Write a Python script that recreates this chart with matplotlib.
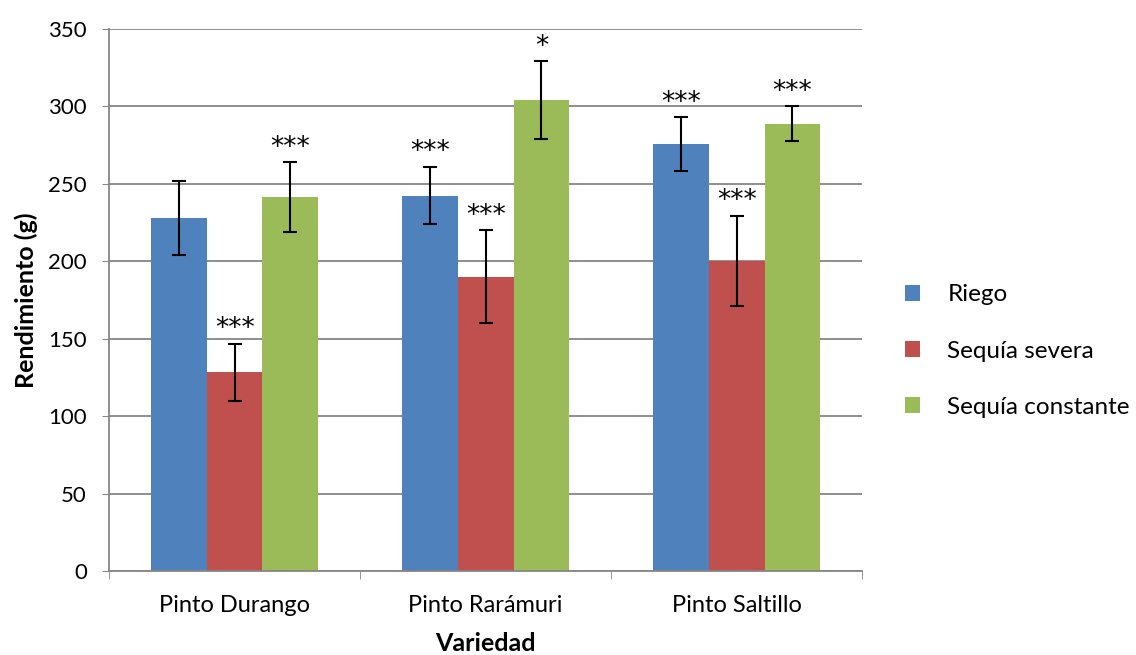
import matplotlib
matplotlib.use("Agg")
import matplotlib.pyplot as plt
import numpy as np

categories = ["Pinto Durango", "Pinto Rarámuri", "Pinto Saltillo"]
series = ["Riego", "Sequía severa", "Sequía constante"]
riego = [228, 242.5, 275.7]
severa = [128.3, 190, 200.1]
constante = [241.6, 304, 288.8]
riego_err = [24, 18.7, 17.3]
severa_err = [18.5, 30, 29.2]
constante_err = [22.5, 25.3, 11.2]
riego_sig = ["", "***", "***"]
severa_sig = ["***", "***", "***"]
constante_sig = ["***", "*", "***"]
colors = ["#4F81BD", "#C0504D", "#9BBB59"]

plt.rcParams['font.family'] = ['Lato', 'DejaVu Sans']

fig = plt.figure(figsize=(11.36, 6.55), dpi=100)
ax = fig.add_axes([0.096, 0.128, 0.663, 0.8277])

x = np.arange(len(categories))
w = 1 / 4.5
vals = [riego, severa, constante]
errs = [riego_err, severa_err, constante_err]
sigs = [riego_sig, severa_sig, constante_sig]
for i in range(3):
    pos = x + (i - 1) * w
    ax.bar(pos, vals[i], width=w, color=colors[i], label=series[i], zorder=2)
    ax.errorbar(pos, vals[i], yerr=errs[i], fmt='none', ecolor='black',
                elinewidth=1.5, capsize=5, capthick=1.5, zorder=3)
    for p, v, e, s in zip(pos, vals[i], errs[i], sigs[i]):
        if s:
            ax.text(p, v + e + 1, s, ha='center', va='bottom', fontsize=19,
                    family='DejaVu Sans', color='black')

ax.set_xlim(-0.5, 2.5)
ax.set_ylim(0, 350)
ax.set_yticks(np.arange(0, 351, 50))
ax.set_xticks(x)
ax.set_xticklabels(categories, fontsize=17)
ax.set_xticks([-0.5, 0.5, 1.5, 2.5], minor=True)
ax.tick_params(axis='x', which='major', length=0, pad=17)
ax.tick_params(axis='x', which='minor', length=6, color='#868686', direction='out')
ax.tick_params(axis='y', length=5, color='#868686', labelsize=16, direction='out', pad=11)
ax.yaxis.grid(True, color='#868686', linewidth=1.3, zorder=0)
ax.set_axisbelow(True)
for s in ['top', 'right']:
    ax.spines[s].set_visible(False)
for s in ['left', 'bottom']:
    ax.spines[s].set_color('#868686')
    ax.spines[s].set_linewidth(1.3)

ax.set_ylabel("Rendimiento (g)", fontsize=18, fontweight='bold', labelpad=7)
ax.set_xlabel("Variedad", fontsize=18, fontweight='bold', labelpad=12)

leg = fig.legend(loc='center left', bbox_to_anchor=(905 / 1136, 1 - 351 / 655),
                 frameon=False, fontsize=17.5, handlelength=0.62, handleheight=0.62,
                 labelspacing=1.45, handletextpad=1.12, borderpad=0, borderaxespad=0)

fig.savefig("out.png", dpi=100)
